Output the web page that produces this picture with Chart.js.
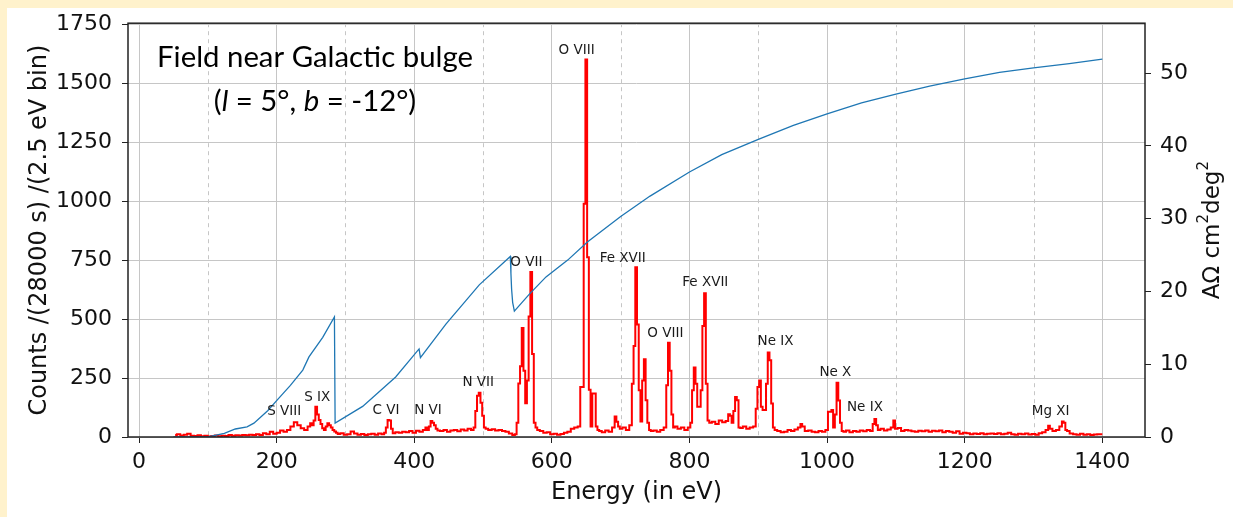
<!DOCTYPE html>
<html>
<head>
<meta charset="utf-8">
<script src="https://cdn.jsdelivr.net/npm/chart.js@4.4.0/dist/chart.umd.min.js"></script>
<style>
html, body { margin: 0; padding: 0; background: #fff2cc; }
#wrap { position: absolute; left: 0; top: 0; width: 1233px; height: 517px; }
canvas { display: block; }
</style>
</head>
<body>
<div id="wrap"><canvas id="spectrumChart" width="1233" height="517"></canvas></div>
<script>
// tick values
const xTicks = [0, 200, 400, 600, 800, 1000, 1200, 1400];
const xMinorTicks = [100, 300, 500, 700, 900, 1100, 1300];
const countTicks = [0, 250, 500, 750, 1000, 1250, 1500, 1750];
const areaTicks = [0, 10, 20, 30, 40, 50];

// observed spectrum: [energy eV, counts per 2.5 eV bin]
const spectrumBins = [
    [52.5, 8], [57.5, 12], [62.5, 6], [67.5, 10], [72.5, 14], [77.5, 5], [82.5, 4], [87.5, 7],
    [92.5, 3], [97.5, 5], [102.5, 2], [107.5, 4], [112.5, 6], [117.5, 3], [122.5, 5], [127.5, 4],
    [132.5, 8], [137.5, 5], [142.5, 7], [147.5, 6], [152.5, 9], [157.5, 7], [162.5, 10], [167.5, 8],
    [172.5, 12], [177.5, 9], [182.5, 16], [187.5, 12], [192.5, 22], [197.5, 14], [202.5, 18],
    [207.5, 28], [212.5, 22], [217.5, 30], [222.5, 45], [227.5, 63], [232.5, 50], [237.5, 37],
    [242.5, 30], [247.5, 45], [250, 58], [252.5, 50], [255, 70], [257.5, 128], [260, 95],
    [262.5, 72], [265, 55], [267.5, 37], [270, 30], [272.5, 45], [275, 58], [277.5, 50], [280, 40],
    [282.5, 30], [285, 23], [287.5, 18], [290, 13], [295, 16], [300, 10], [305, 12], [310, 23],
    [315, 15], [320, 10], [325, 13], [330, 9], [335, 12], [340, 14], [345, 10], [350, 15], [355, 12],
    [357.5, 18], [360, 40], [362.5, 72], [365, 70], [367.5, 35], [370, 16], [375, 20], [380, 18],
    [385, 22], [390, 20], [395, 25], [400, 18], [405, 26], [410, 22], [415, 30], [417.5, 40],
    [420, 30], [422.5, 45], [425, 68], [427.5, 60], [430, 50], [432.5, 35], [435, 28], [440, 25],
    [445, 30], [450, 22], [455, 28], [460, 30], [465, 24], [470, 32], [475, 28], [480, 35], [485, 30],
    [487.5, 40], [490, 110], [492.5, 175], [495, 188], [497.5, 145], [500, 90], [502.5, 40],
    [505, 35], [510, 30], [515, 33], [520, 28], [525, 30], [530, 25], [535, 22], [540, 15], [545, 8],
    [547.5, 12], [550, 60], [552.5, 227], [555, 300], [557.5, 462], [560, 281], [562.5, 143],
    [565, 240], [567.5, 511], [570, 699], [572.5, 352], [575, 60], [577.5, 40], [580, 30], [585, 25],
    [590, 18], [595, 20], [600, 12], [605, 14], [610, 10], [615, 13], [620, 18], [625, 22], [630, 35],
    [635, 40], [640, 45], [642.5, 212], [645, 212], [647.5, 989], [650, 1600], [652.5, 762],
    [655, 200], [657.5, 45], [660, 184], [662.5, 184], [665, 45], [667.5, 30], [670, 25], [675, 20],
    [680, 28], [685, 22], [690, 40], [692.5, 87], [695, 65], [697.5, 45], [700, 35], [705, 40],
    [710, 30], [715, 50], [717.5, 226], [720, 386], [722.5, 720], [725, 477], [727.5, 198], [730, 66],
    [732.5, 240], [735, 330], [737.5, 156], [740, 60], [742.5, 30], [745, 25], [750, 28], [755, 22],
    [760, 30], [765, 40], [767.5, 219], [770, 400], [772.5, 281], [775, 95], [777.5, 40], [780, 45],
    [785, 35], [790, 40], [795, 30], [800, 40], [802.5, 60], [805, 198], [807.5, 295], [810, 226],
    [812.5, 128], [815, 128], [817.5, 198], [820, 470], [822.5, 609], [825, 226], [827.5, 70],
    [830, 60], [835, 65], [840, 55], [845, 70], [850, 62], [855, 68], [857.5, 96], [860, 90],
    [862.5, 60], [865, 110], [867.5, 170], [870, 156], [872.5, 40], [875, 38], [880, 45], [885, 35],
    [890, 40], [895, 45], [897.5, 120], [900, 212], [902.5, 240], [905, 128], [907.5, 114],
    [910, 114], [912.5, 226], [915, 358], [917.5, 325], [920, 142], [922.5, 40], [925, 30], [930, 25],
    [935, 20], [940, 22], [945, 30], [950, 25], [955, 32], [960, 40], [962.5, 55], [965, 45],
    [970, 25], [975, 28], [980, 22], [985, 20], [990, 25], [995, 22], [1000, 30], [1002.5, 107],
    [1005, 107], [1007.5, 114], [1010, 40], [1012.5, 95], [1015, 230], [1017.5, 155], [1020, 60],
    [1022.5, 25], [1025, 22], [1030, 28], [1035, 20], [1040, 25], [1045, 22], [1050, 28], [1055, 24],
    [1060, 30], [1065, 25], [1067.5, 55], [1070, 76], [1072.5, 50], [1075, 30], [1080, 35],
    [1085, 28], [1090, 32], [1095, 40], [1097.5, 70], [1100, 35], [1105, 38], [1110, 25], [1115, 30],
    [1120, 28], [1125, 24], [1130, 22], [1135, 26], [1140, 24], [1145, 28], [1150, 22], [1155, 26],
    [1160, 24], [1165, 28], [1170, 20], [1175, 25], [1180, 22], [1185, 18], [1190, 24], [1195, 14],
    [1200, 18], [1205, 16], [1210, 12], [1215, 15], [1220, 13], [1225, 16], [1230, 12], [1235, 14],
    [1240, 15], [1245, 13], [1250, 16], [1255, 12], [1260, 14], [1265, 18], [1270, 12], [1275, 10],
    [1280, 14], [1285, 12], [1290, 15], [1295, 11], [1300, 13], [1305, 10], [1310, 16], [1315, 20],
    [1320, 30], [1322.5, 48], [1325, 35], [1330, 25], [1335, 30], [1340, 45], [1342.5, 66],
    [1345, 60], [1347.5, 30], [1350, 25], [1355, 15], [1360, 12], [1365, 10], [1370, 14], [1375, 10],
    [1380, 12], [1385, 9], [1390, 11], [1395, 12], [1400, 12]
];

// effective area (right axis): [energy eV, A*Omega cm2 deg2]
const areaCurve = [
    [50, 0], [100, 0], [124, 0.5], [140, 1.1], [157, 1.4], [167, 1.9], [187, 3.6], [201, 5.1],
    [220, 7.1], [238, 9.2], [247, 11.0], [267, 13.7], [284, 16.5], [285, 1.9], [325, 4.2],
    [373, 8.25], [407, 12.1], [409, 10.9], [446, 15.5], [494.5, 20.9], [539.6, 24.8], [540.5, 22.5],
    [541.5, 20.3], [543, 18.5], [545.5, 17.3], [567, 19.6], [591.5, 22.0], [623, 24.3],
    [651.6, 26.8], [700, 30.3], [742.7, 33.1], [800, 36.4], [846.9, 38.8], [900, 40.9],
    [951, 42.8], [1000, 44.4], [1050, 45.9], [1100, 47.1], [1149, 48.2], [1200, 49.2],
    [1250.5, 50.1], [1300, 50.7], [1352, 51.3], [1400, 51.9]
];

// line identifications: [label, energy, counts]
const lineLabels = [
    ['S VIII', 211, 106], ['S IX', 259, 169], ['C VI', 359, 114], ['N VI', 420, 114],
    ['N VII', 493, 231], ['O VII', 563, 741], ['O VIII', 636, 1639], ['Fe XVII', 703, 757],
    ['O VIII', 765, 440], ['Fe XVII', 823, 653], ['Ne IX', 925, 403], ['Ne X', 1012, 273],
    ['Ne IX', 1055, 123], ['Mg XI', 1325, 110]
];

const titleLine1 = 'Field near Galactic bulge';
const titleLine2 = [['(', false], ['l', true], [' = 5°, ', false], ['b', true], [' = -12°)', false]];

const gridColor = '#c6c6c6';
const tickFont = { family: 'DejaVu Sans', size: 22 };
const plainLabel = v => String(v);

const decorPlugin = {
    id: 'decor',
    beforeDraw(chart) {
        const ctx = chart.ctx;
        ctx.save();
        ctx.fillStyle = '#fff2cc';
        ctx.fillRect(0, 0, chart.width, chart.height);
        ctx.fillStyle = '#ffffff';
        ctx.fillRect(7, 8, chart.width - 7, chart.height - 8);
        ctx.restore();
    },
    beforeDatasetsDraw(chart) {
        // dashed minor grid
        const ctx = chart.ctx, area = chart.chartArea, xs = chart.scales.x;
        ctx.save();
        ctx.strokeStyle = gridColor;
        ctx.lineWidth = 1;
        ctx.setLineDash([4, 4]);
        xMinorTicks.forEach(v => {
            const px = Math.round(xs.getPixelForValue(v)) + 0.5;
            ctx.beginPath();
            ctx.moveTo(px, area.top);
            ctx.lineTo(px, area.bottom);
            ctx.stroke();
        });
        ctx.restore();
    },
    afterDatasetsDraw(chart) {
        const ctx = chart.ctx, xs = chart.scales.x, ys = chart.scales.y;
        ctx.save();
        ctx.fillStyle = '#1a1a1a';
        ctx.font = '13.5px "DejaVu Sans"';
        ctx.textAlign = 'center';
        ctx.textBaseline = 'middle';
        lineLabels.forEach(([t, e, c]) => {
            ctx.fillText(t, xs.getPixelForValue(e), ys.getPixelForValue(c));
        });
        ctx.restore();
    },
    afterDraw(chart) {
        const ctx = chart.ctx, area = chart.chartArea;
        ctx.save();
        // frame
        ctx.strokeStyle = '#222';
        ctx.lineWidth = 1.5;
        ctx.strokeRect(area.left, area.top, area.right - area.left, area.bottom - area.top);

        // field text
        ctx.fillStyle = '#000';
        ctx.font = '100px Lato';
        const size = 100 * 316 / ctx.measureText(titleLine1).width;
        ctx.font = size + 'px Lato';
        ctx.textAlign = 'center';
        ctx.textBaseline = 'alphabetic';
        ctx.fillText(titleLine1, 315, 67);
        ctx.textAlign = 'left';
        let total = 0;
        titleLine2.forEach(([t, it]) => {
            ctx.font = (it ? 'italic ' : '') + size + 'px Lato';
            total += ctx.measureText(t).width;
        });
        let x = 315 - total / 2;
        titleLine2.forEach(([t, it]) => {
            ctx.font = (it ? 'italic ' : '') + size + 'px Lato';
            ctx.fillText(t, x, 111);
            x += ctx.measureText(t).width;
        });

        // right axis title, reading bottom to top
        ctx.translate(1213, (area.top + area.bottom) / 2);
        ctx.rotate(-Math.PI / 2);
        const parts = [['AΩ cm', 0], ['2', 1], ['deg', 0], ['2', 1]];
        let w = 0;
        parts.forEach(([t, sup]) => {
            ctx.font = (sup ? 15 : 23) + 'px "DejaVu Sans"';
            w += ctx.measureText(t).width;
        });
        let px = -w / 2;
        ctx.textBaseline = 'middle';
        ctx.fillStyle = '#111';
        parts.forEach(([t, sup]) => {
            ctx.font = (sup ? 15 : 23) + 'px "DejaVu Sans"';
            ctx.fillText(t, px, sup ? -9 : 0);
            px += ctx.measureText(t).width;
        });
        ctx.restore();
    }
};

const ctx = document.getElementById('spectrumChart').getContext('2d');
const spectrumChart = new Chart(ctx, {
    type: 'line',
    data: {
        datasets: [
            {
                label: 'Effective area',
                data: areaCurve.map(p => ({ x: p[0], y: p[1] })),
                yAxisID: 'y1',
                borderColor: '#1f77b4',
                borderWidth: 1.3,
                pointRadius: 0,
                tension: 0,
                order: 0
            },
            {
                label: 'Counts',
                data: spectrumBins.map(p => ({ x: p[0], y: p[1] })),
                yAxisID: 'y',
                borderColor: '#ff0000',
                borderWidth: 2,
                pointRadius: 0,
                stepped: 'middle',
                order: 1
            }
        ]
    },
    options: {
        responsive: false,
        animation: false,
        events: [],
        layout: { padding: { top: 18, left: 0, right: 0, bottom: 0 } },
        plugins: { legend: { display: false }, tooltip: { enabled: false } },
        scales: {
            x: {
                type: 'linear',
                position: 'bottom',
                min: -16,
                max: 1462,
                afterBuildTicks: s => { s.ticks = xTicks.map(v => ({ value: v })); },
                afterFit: s => { s.height = 80; },
                ticks: { font: tickFont, color: '#111', padding: 6, maxRotation: 0, autoSkip: false, includeBounds: false, callback: plainLabel },
                grid: { color: gridColor, lineWidth: 1, tickColor: '#222', tickLength: 6 },
                border: { display: false },
                title: {
                    display: true, text: 'Energy (in eV)', color: '#111',
                    font: { family: 'DejaVu Sans', size: 24 }, padding: { top: 0, bottom: 9.6 }
                }
            },
            y: {
                position: 'left',
                min: 0,
                max: 1754,
                afterBuildTicks: s => { s.ticks = countTicks.map(v => ({ value: v })); },
                afterFit: s => { s.width = 128; },
                ticks: { font: tickFont, color: '#111', padding: 10, includeBounds: false, callback: plainLabel },
                grid: { color: gridColor, lineWidth: 1, tickColor: '#222', tickLength: 6 },
                border: { display: false },
                title: {
                    display: true, text: 'Counts /(28000 s) /(2.5 eV bin)', color: '#111',
                    font: { family: 'DejaVu Sans', size: 24 }, padding: { top: 25.6, bottom: 0 }
                }
            },
            y1: {
                position: 'right',
                min: 0,
                max: 56.85,
                afterBuildTicks: s => { s.ticks = areaTicks.map(v => ({ value: v })); },
                afterFit: s => { s.width = 88; },
                ticks: { font: tickFont, color: '#111', padding: 9, includeBounds: false, callback: plainLabel },
                grid: { drawOnChartArea: false, tickColor: '#222', tickLength: 6 },
                border: { display: false }
            }
        }
    },
    plugins: [decorPlugin]
});
</script>
</body>
</html>
